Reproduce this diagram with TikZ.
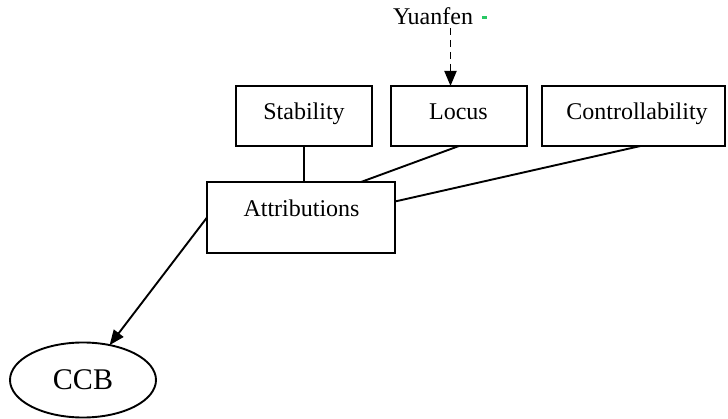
\documentclass[tikz,border=0pt]{standalone}
\usepackage{fontspec}
\setmainfont{Liberation Serif}
\usetikzlibrary{arrows.meta,shapes.geometric,calc}
\definecolor{markgreen}{RGB}{40,200,100}
\begin{document}
\begin{tikzpicture}[x=1pt,y=-1pt,
  every node/.style={inner sep=0pt,outer sep=0pt},
  txt/.style={font=\fontsize{24}{28}\selectfont,anchor=base},
  frame/.style={draw,line width=1.9pt},
  factor/.style={frame,rectangle,minimum height=60pt},
  link/.style={line width=1.9pt},
  tip/.style={-{Triangle[length=15pt,width=12pt]}}]
\useasboundingbox (0,0) rectangle (728,419);

% three attribution dimensions
\node[factor,minimum width=136pt] (stab) at (304,116) {};
\node[factor,minimum width=136pt] (locus) at (459,116) {};
\node[factor,minimum width=183pt] (ctrl) at (633.5,116) {};
\node[txt] (stabt) at (304,120) {Stability};
\node[txt] (locust) at (458.5,120) {Locus};
\node[txt] (ctrlt) at (637,120) {Controllability};

% attributions box
\node[frame,minimum width=188pt,minimum height=71pt] (attr) at (301,217.5) {};
\node[txt] (attrt) at (301.5,216.7) {Attributions};

% outcome
\node[frame,ellipse,minimum width=146pt,minimum height=75pt,
      font=\fontsize{30}{34}\selectfont] (ccb) at (83,380) {CCB};

% yuanfen influence on locus
\node[txt] (yuan) at (433,25) {Yuanfen};
\fill[markgreen] (482,16) rectangle (487,19);
\coordinate (yfoot) at (450.5,28);
\draw[link,tip,dash pattern=on 7pt off 5pt] (yfoot) -- (yfoot |- locus.north);

% connections
\draw[link] (stab.south) -- (stab.south |- attr.north);
\draw[link] (locus.south) -- ($(attr.north east)+(-34,0)$);
\draw[link] ($(ctrl.south)+(7,0)$) -- ($(attr.east)+(0,-16)$);
\draw[link,tip] (attr.west) -- (ccb);
\end{tikzpicture}
\end{document}
